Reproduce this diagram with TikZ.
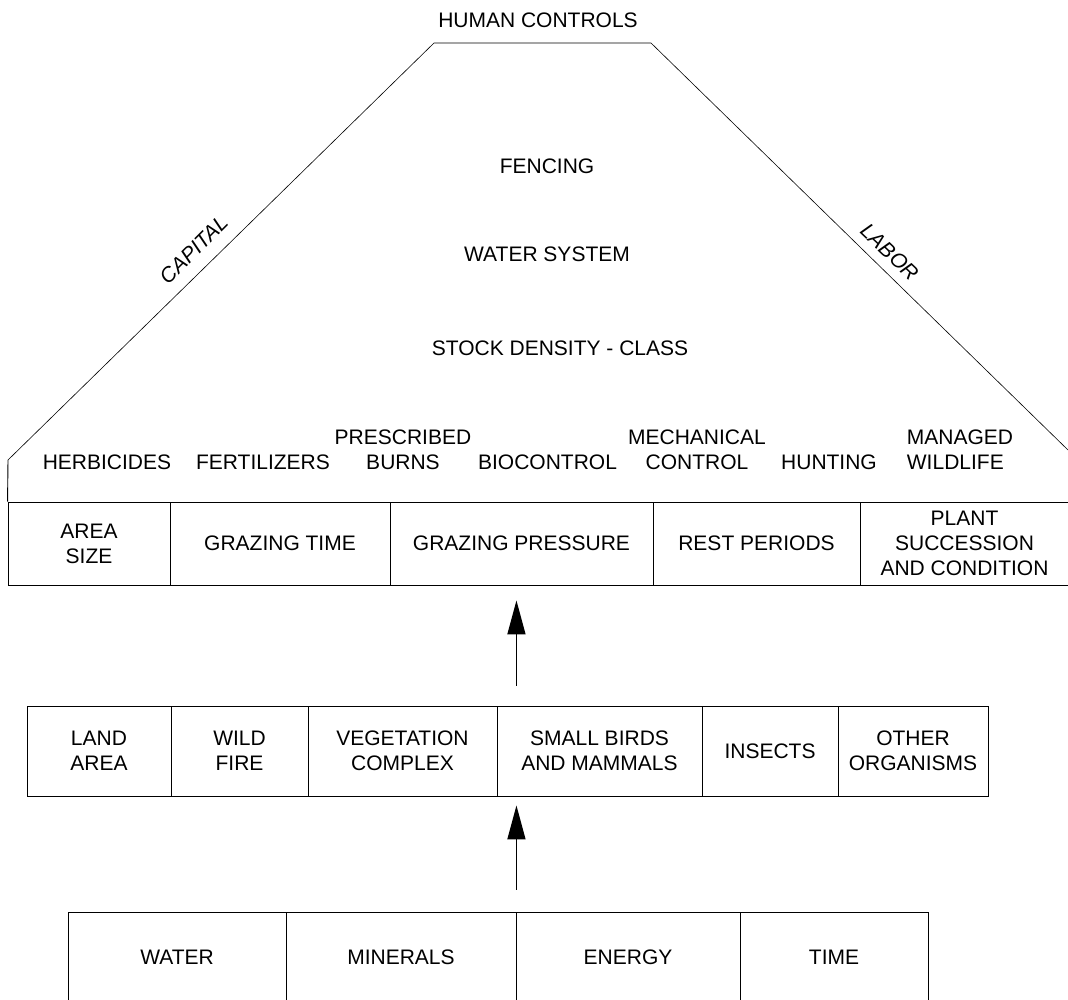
\documentclass[tikz,border=0pt]{standalone}
\usepackage{fontspec}
\setmainfont{Liberation Sans}
\usetikzlibrary{arrows.meta}

\begin{document}
\begin{tikzpicture}[x=1pt,y=-1pt,
  txt/.style={font=\fontsize{21}{25}\selectfont,align=center,inner sep=0pt},
  slant/.style={txt,font=\fontsize{21}{25}\selectfont\itshape},
  tool/.style={txt,anchor=south},
  cell/.style={txt,draw,line width=0.9pt},
  rowA/.style={cell,minimum height=83pt},
  rowB/.style={cell,minimum height=90pt},
  slope/.style={line width=0.6pt},
  rise/.style={-{Triangle[length=34pt,width=18pt]},line width=1.6pt}]
\path[use as bounding box] (0,0) rectangle (1068,1000);

% Toit - controles humains
\node[txt] (human) at (538,20.5) {HUMAN CONTROLS};
\coordinate (topL) at (434,43);
\coordinate (topR) at (651,43);
\coordinate (baseL) at (8,460);
\coordinate (baseR) at (1068,450);
\node[slant,rotate=45] (capital) at (194,250) {CAPITAL};
\node[slant,rotate=-43.5] (labor) at (890,252) {LABOR};
\node[txt] (fence) at (547,166) {FENCING};
\node[txt] (watsys) at (547,254) {WATER SYSTEM};
\node[txt] (stock) at (560,348) {STOCK DENSITY - CLASS};

% Outils de gestion
\node[tool] (herb) at (107,469.5) {HERBICIDES};
\node[tool] (fert) at (263,469.5) {FERTILIZERS};
\node[tool] (burns) at (403,469.5) {PRESCRIBED\\BURNS};
\node[tool] (bio) at (547.5,469.5) {BIOCONTROL};
\node[tool] (mech) at (697,469.5) {MECHANICAL\\CONTROL};
\node[tool] (hunt) at (829,469.5) {HUNTING};
\node[tool,align=left] (wild) at (960,469.5) {MANAGED\\WILDLIFE};

% Rang 1 - paturage
\node[rowA,minimum width=162pt] (area) at (89,543.5) {AREA\\SIZE};
\node[rowA,minimum width=220pt] (gtime) at (280,543.5) {GRAZING TIME};
\node[rowA,minimum width=263pt] (gpress) at (521.5,543.5) {GRAZING PRESSURE};
\node[rowA,minimum width=207pt] (rest) at (756.5,543.5) {REST PERIODS};
\node[rowA,minimum width=209pt] (plant) at (964.5,543.5) {PLANT\\SUCCESSION\\AND CONDITION};
\draw[slope] (baseL) -- (topL) -- (topR) -- (baseR);
\draw[line width=0.9pt] (area.north west) -- (baseL);

% Rang 2 - ecosysteme
\node[rowB,minimum width=144pt] (land) at (99,751) {LAND\\AREA};
\node[rowB,minimum width=137pt] (fire) at (239.5,751) {WILD\\FIRE};
\node[rowB,minimum width=189pt] (veg) at (402.5,751) {VEGETATION\\COMPLEX};
\node[rowB,minimum width=205pt] (birds) at (599.5,751) {SMALL BIRDS\\AND MAMMALS};
\node[rowB,minimum width=136pt] (insects) at (770,751) {INSECTS};
\node[rowB,minimum width=150pt] (other) at (913,751) {OTHER\\ORGANISMS};

% Rang 3 - ressources de base
\node[rowB,minimum width=218pt] (water) at (177,957) {WATER};
\node[rowB,minimum width=230pt] (minerals) at (401,957) {MINERALS};
\node[rowB,minimum width=224pt] (energy) at (628,957) {ENERGY};
\node[rowB,minimum width=188pt] (time) at (834,957) {TIME};

% Fleches
\coordinate (tipA) at (minerals.north east |- gpress.south);
\coordinate (footA) at (minerals.north east |- birds.north);
\coordinate (tipB) at (minerals.north east |- birds.south);
\draw[rise] ([yshift=20pt]footA) -- ([yshift=-15pt]tipA);
\draw[rise] ([yshift=22pt]minerals.north east) -- ([yshift=-9pt]tipB);
\end{tikzpicture}
\end{document}
